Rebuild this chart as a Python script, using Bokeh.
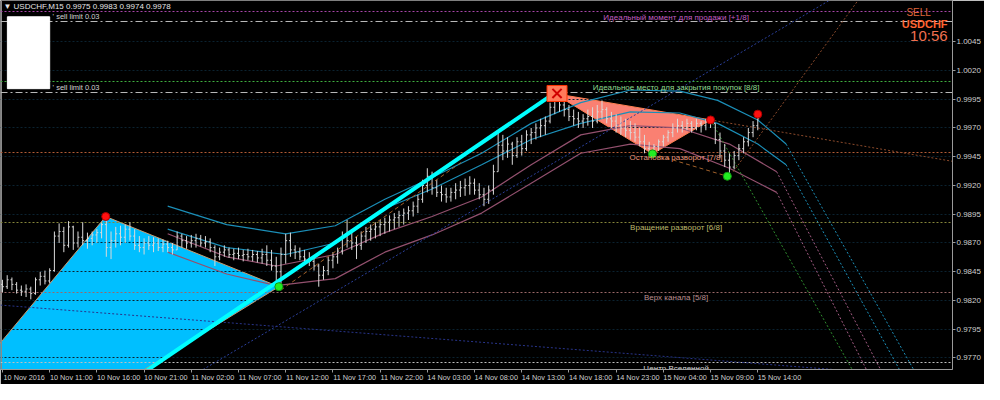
from bokeh.plotting import figure
from bokeh.models import Range1d, Label, FixedTicker, PrintfTickFormatter, LinearAxis
from bokeh.embed import file_html
from bokeh.resources import INLINE
from bokeh.core.properties import value

FONT = "Liberation Sans"
PIP = 0.0001

# ---------------- price bars (30-min bars drawn on the M15 time grid, prices in pips) -------------
highs = [9838, 9842, 9840, 9836, 9833, 9834, 9832, 9840, 9845, 9846, 9848,
         9880, 9887, 9884, 9889, 9885, 9880, 9888, 9879, 9880, 9882,
         9888, 9893, 9880, 9884, 9885, 9886, 9888, 9882, 9876, 9874,
         9876, 9875, 9874, 9873, 9872, 9870, 9880, 9878, 9876, 9877,
         9878, 9877, 9876, 9874, 9868, 9866, 9868, 9866, 9865, 9866,
         9864, 9865, 9864, 9863, 9865, 9868, 9864, 9858, 9866, 9878,
         9879, 9868, 9866, 9864, 9862, 9858, 9852, 9850, 9858, 9862,
         9866, 9880, 9890, 9882, 9876, 9880, 9884, 9886, 9888, 9890,
         9892, 9894, 9896, 9898, 9900, 9902, 9906, 9912, 9925, 9935,
         9932, 9925, 9920, 9918, 9918, 9922, 9924, 9926, 9928, 9926,
         9922, 9918, 9920, 9938, 9966, 9964, 9962, 9958, 9962, 9964,
         9968, 9970, 9974, 9978, 9980, 9992, 10002, 10000, 9998, 9990,
         9986, 9984, 9982, 9986, 9988, 9990, 9994, 9988, 9984, 9982,
         9980, 9978, 9976, 9974, 9970, 9964, 9958, 9956, 9960, 9964,
         9968, 9974, 9978, 9976, 9978, 9976, 9978, 9976, 9978, 9980,
         9974, 9966, 9956, 9948, 9950, 9956, 9962, 9970, 9976, 9981]
lows = [9827, 9830, 9829, 9826, 9824, 9823, 9821, 9825, 9833, 9834, 9835,
        9845, 9870, 9862, 9866, 9864, 9866, 9868, 9865, 9868, 9870,
        9874, 9858, 9856, 9866, 9868, 9870, 9872, 9864, 9862, 9860,
        9864, 9862, 9863, 9862, 9862, 9860, 9864, 9866, 9865, 9866,
        9866, 9867, 9866, 9862, 9850, 9855, 9858, 9857, 9855, 9856,
        9854, 9855, 9854, 9853, 9852, 9850, 9846, 9836, 9831, 9852,
        9858, 9856, 9855, 9852, 9850, 9846, 9832, 9838, 9842, 9848,
        9852, 9860, 9866, 9864, 9856, 9864, 9870, 9872, 9874, 9876,
        9878, 9880, 9882, 9884, 9886, 9890, 9893, 9896, 9905, 9914,
        9912, 9910, 9906, 9905, 9906, 9908, 9910, 9911, 9912, 9912,
        9908, 9902, 9904, 9912, 9932, 9942, 9944, 9938, 9944, 9946,
        9950, 9956, 9960, 9962, 9964, 9974, 9982, 9984, 9980, 9976,
        9972, 9970, 9970, 9972, 9970, 9974, 9978, 9974, 9970, 9966,
        9964, 9962, 9960, 9958, 9954, 9948, 9946, 9947, 9950, 9954,
        9958, 9962, 9966, 9966, 9968, 9966, 9968, 9966, 9968, 9970,
        9956, 9944, 9936, 9929, 9934, 9942, 9948, 9954, 9962, 9968]
closes = [9832, 9838, 9834, 9829, 9828, 9830, 9826, 9838, 9841, 9837, 9846,
          9876, 9880, 9868, 9884, 9870, 9875, 9872, 9874, 9877, 9879,
          9886, 9866, 9872, 9878, 9875, 9882, 9876, 9868, 9866, 9870,
          9868, 9870, 9866, 9869, 9866, 9864, 9876, 9872, 9870, 9872,
          9874, 9870, 9871, 9866, 9858, 9862, 9864, 9860, 9861, 9859,
          9860, 9858, 9860, 9857, 9860, 9855, 9850, 9845, 9860, 9872,
          9864, 9862, 9858, 9856, 9854, 9850, 9842, 9846, 9855, 9858,
          9863, 9876, 9872, 9870, 9868, 9876, 9880, 9882, 9884, 9886,
          9888, 9890, 9892, 9894, 9896, 9898, 9902, 9908, 9920, 9928,
          9918, 9914, 9912, 9910, 9914, 9916, 9918, 9920, 9922, 9916,
          9912, 9908, 9916, 9932, 9955, 9950, 9956, 9946, 9958, 9952,
          9964, 9966, 9970, 9972, 9976, 9988, 9994, 9990, 9986, 9980,
          9978, 9976, 9978, 9980, 9976, 9984, 9986, 9978, 9976, 9972,
          9970, 9968, 9966, 9962, 9958, 9952, 9950, 9954, 9958, 9962,
          9966, 9970, 9972, 9970, 9974, 9970, 9974, 9972, 9976, 9974,
          9960, 9950, 9942, 9936, 9946, 9952, 9958, 9966, 9972, 9978]
first_open = 9834
BAR_STEP = 2  # each bar covers two M15 slots

# ---------------- axes ----------------
time_ticks = [0, 20, 40, 60, 80, 100, 120, 140, 160, 180, 200, 220, 240, 260, 280, 300, 320]
time_labels = ["10 Nov 2016", "10 Nov 11:00", "10 Nov 16:00", "10 Nov 21:00", "11 Nov 02:00",
               "11 Nov 07:00", "11 Nov 12:00", "11 Nov 17:00", "11 Nov 22:00", "14 Nov 03:00",
               "14 Nov 08:00", "14 Nov 13:00", "14 Nov 18:00", "14 Nov 23:00", "15 Nov 04:00",
               "15 Nov 09:00", "15 Nov 14:00"]
price_ticks = [0.9770, 0.9795, 0.9820, 0.9845, 0.9870, 0.9895, 0.9920, 0.9945,
               0.9970, 0.9995, 1.0020, 1.0045]

# ---------------- Murrey levels ----------------
levels = [1.0071, 1.0010, 0.9949, 0.9888, 0.9827, 0.9766]
level_names = ["Идеальный момент для продажи [+1/8]",
               "Идеальное место для закрытия покупок [8/8]",
               "Остановка разворот [7/8]",
               "Вращение разворот [6/8]",
               "Верх канала [5/8]",
               "Центр Вселенной"]
level_line_colors = ["#A844A8", "#3FAF3F", "#B25C36", "#85853A", "#9A6868", "#BEBEBE"]
level_text_colors = ["#C25FC2", "#8FD88F", "#E9967A", "#BDB76B", "#BC8F8F", "#D8D8D8"]
level_tag_colors = ["#DD77DD", "#90EE90", "#F4886A", "#BDB76B", "#BC8F8F", "#FFFFFF"]
level_text_k = 285.4
current_price = 0.9978
sell_limit_prices = [1.0063, 1.0001]
sell_limit_text = "sell limit 0.03"

# ---------------- ZUP pattern points (k = M15 slot, pips) ----------------
zup1_k = [-84.6, 43.75, 117.1]
zup1_p = [9577, 9893, 9832]
zup2_k = [233.75, 275.4, 300.0]
zup2_p = [10000, 9947.5, 9977]
tops_k = [43.75, 300.0, 320.0]
tops_p = [9893, 9977, 9982]
bottoms_k = [117.1, 275.4, 307.1]
bottoms_p = [9832, 9947.5, 9928]
trend_k = [57.5, 233.75]
trend_p = [9754, 10000]
dash1_k = [117.9, 195.0]
dash1_p = [9829, 9941]
dash2_k = [275.4, 307.1]
dash2_p = [9947.5, 9928]

# ---------------- regression channel curves ----------------
ch_k = [70, 95, 120, 141, 162, 182, 203, 224, 245, 266, 287, 303, 320, 332]
t1_p = [9902, 9886, 9878, 9885, 9908, 9927, 9948, 9974, 9992, 10003, 10002, 9994, 9977, 9956]
t2_p = [9882, 9866, 9860, 9870, 9900, 9917, 9938, 9960, 9974, 9984, 9983, 9974, 9956, 9938]
pk = [70, 95, 116, 141, 162, 182, 203, 224, 245, 266, 287, 308, 328]
p1_p = [9878, 9858, 9850, 9860, 9879, 9893, 9910, 9938, 9964, 9972, 9970, 9956, 9932]
p2_p = [9862, 9843, 9833, 9839, 9862, 9877, 9896, 9922, 9948, 9956, 9952, 9935, 9914]

# projections (dotted straight lines): k0, p0, k1, p1, colour
projections = [
    (332, 9956, 386, 9760, "#1B8EB7"),
    (332, 9938, 380, 9760, "#1B8EB7"),
    (328, 9932, 372, 9760, "#A05A80"),
    (328, 9914, 366, 9760, "#A05A80"),
    (300, 9977, 360, 9760, "#2E8B2E"),
    (85, 9760, 350.4, 10081, "#2A3F9A"),
    (309.6, 9932, 362.5, 10081, "#8B4A2B"),
    (300, 9977, 402.5, 9941, "#8B4A2B"),
    (-0.83, 9816, 402.5, 9752, "#28348A"),
]

def kx(px):
    return (px - 2) / 2.4

def py(px):
    return (9770 + (373 - px) / 1.2) * PIP

def pr(lst):
    return [v * PIP for v in lst]

p = figure(width=984, height=384, output_backend="svg", toolbar_location=None,
           x_range=Range1d(kx(0), kx(968)), y_range=Range1d(py(385), py(0)),
           background_fill_color="black", border_fill_color="black",
           min_border_left=0, min_border_top=0, min_border_right=32, min_border_bottom=14,
           y_axis_location="right", outline_line_color=None)
p.xgrid.visible = False
p.ygrid.visible = False

# triangles
p.patch(zup1_k, pr(zup1_p), fill_color="#00BFFF", line_color="#C89A70", line_width=1)
p.patch(zup2_k, pr(zup2_p), fill_color="#FA8072", line_color="#FF7F50", line_width=1)

# dark grid over fills
p.hspan(y=price_ticks, line_color="#0B2230", line_dash="2 2", line_width=1)

# left border
p.vspan(x=[kx(1)], line_color="#8A8A8A", line_width=1)

# levels
p.hspan(y=levels, line_color=level_line_colors, line_dash="2 2", line_width=1)
p.hspan(y=sell_limit_prices, line_color="#B8B8B8", line_dash="7 3 2 3", line_width=1)

# channel curves
p.line(ch_k, pr(t1_p), line_color="#1B8EB7", line_width=1.2)
p.line(ch_k, pr(t2_p), line_color="#1B8EB7", line_width=1.2)
p.line(pk, pr(p1_p), line_color="#93506E", line_width=1.2)
p.line(pk, pr(p2_p), line_color="#93506E", line_width=1.2)

for k0, p0, k1, p1, col in projections:
    p.line([k0, k1], [p0 * PIP, p1 * PIP], line_color=col, line_dash="2 2", line_width=1)

# bars
bx = [i * BAR_STEP for i in range(len(closes))]
opens = [first_open] + closes[:-1]
p.segment(x0=bx, y0=pr(lows), x1=bx, y1=pr(highs), line_color="#DADADA", line_width=1)
p.segment(x0=[x - 0.6 for x in bx], y0=pr(opens), x1=bx, y1=pr(opens), line_color="#DADADA", line_width=1)
p.segment(x0=bx, y0=pr(closes), x1=[x + 0.6 for x in bx], y1=pr(closes), line_color="#DADADA", line_width=1)

# trend line and dashed legs
p.line(trend_k, pr(trend_p), line_color="#00FFFF", line_width=4)
p.line(dash1_k, pr(dash1_p), line_color="#A0602A", line_dash="4 3", line_width=1)
p.line(dash2_k, pr(dash2_p), line_color="#A0602A", line_dash="4 3", line_width=1)

# pattern marker
p.rect(x=[zup2_k[0] + 1.2], y=[zup2_p[0] * PIP], width=20, height=16, width_units="screen",
       height_units="screen", fill_color="#FF7A5A", line_color="#FF3300")
p.scatter(x=[zup2_k[0] + 1.2], y=[zup2_p[0] * PIP], marker="x", size=13, line_color="#D00000", line_width=2)

# swing dots
p.scatter(tops_k, pr(tops_p), size=8, fill_color="#FF1010", line_color="#B00000")
p.scatter(bottoms_k, pr(bottoms_p), size=8, fill_color="#22EE22", line_color="#119911")

# level texts
p.text(x=[level_text_k] * len(levels), y=levels, text=level_names, text_color=level_text_colors,
       text_font=value(FONT), text_font_size="8px", text_align="center", text_baseline="top",
       y_offset=1)

# trade panel
p.quad(left=[kx(7)], right=[kx(50)], top=[py(17)], bottom=[py(92)], fill_color="white", line_color="white")
for sp in sell_limit_prices:
    p.add_layout(Label(x=kx(53), y=sp, text="' " + sell_limit_text, text_color="#D0D0D0",
                       text_font=FONT, text_font_size="7.5px", text_baseline="bottom"))

# header texts
p.add_layout(Label(x=kx(3), y=py(6), text="▼ USDCHF,M15  0.9975 0.9983 0.9974 0.9978",
                   text_color="#E6E6E6", text_font=FONT, text_font_size="8px", text_baseline="middle"))
p.add_layout(Label(x=kx(946), y=py(12), text="SELL", text_color="#E0663C", text_font=FONT,
                   text_font_size="10px", text_align="right", text_baseline="middle"))
p.add_layout(Label(x=kx(963), y=py(25), text="USDCHF", text_color="#FF6432", text_font=FONT,
                   text_font_size="11px", text_font_style="bold", text_align="right", text_baseline="middle"))
p.add_layout(Label(x=kx(963), y=py(37), text="10:56", text_color="#F07050", text_font=FONT,
                   text_font_size="15px", text_align="right", text_baseline="middle"))

# axes: price scale
p.yaxis.ticker = FixedTicker(ticks=price_ticks)
p.yaxis.formatter = PrintfTickFormatter(format="%.4f")
# time scale: tick marks on the first axis, left-aligned texts on a second one
p.xaxis.ticker = FixedTicker(ticks=time_ticks)
p.xaxis.major_label_overrides = {t: "" for t in time_ticks}
p.xaxis.major_label_text_font_size = "1px"
for ax in (p.xaxis[0], p.yaxis[0]):
    ax.axis_line_color = "#9A9A9A"
    ax.major_tick_line_color = "#9A9A9A"
    ax.major_tick_in = 0
    ax.major_tick_out = 3
    ax.minor_tick_line_color = None
    ax.major_label_text_color = "#CFCFCF"
    ax.major_label_text_font = FONT
    ax.major_label_standoff = 1
p.yaxis.major_label_text_font_size = "8px"
p.xaxis.major_label_standoff = 0

LABEL_SHIFT = 9.2  # half a label width, in M15 slots, so texts start at their tick
label_pos = [t + LABEL_SHIFT for t in time_ticks]
xlab = LinearAxis(ticker=FixedTicker(ticks=label_pos),
                  major_label_overrides={lp: s for lp, s in zip(label_pos, time_labels)},
                  axis_line_color=None, major_tick_line_color=None, minor_tick_line_color=None,
                  major_tick_out=0, major_tick_in=0, major_label_standoff=0,
                  major_label_text_color="#CFCFCF", major_label_text_font=FONT,
                  major_label_text_font_size="7.3px")
p.add_layout(xlab, "below")

# price tags on the scale
tag_prices = levels + [current_price]
tag_colors = level_tag_colors + ["#FFFFFF"]
for tp, tc in zip(tag_prices, tag_colors):
    p.add_layout(Label(x=953, y=tp, x_units="screen", text=f"{tp:.4f}", text_color="black",
                       text_font=FONT, text_font_size="8px", text_baseline="middle",
                       background_fill_color=tc, border_line_color="#707070"))

open("out.html", "w", encoding="utf-8").write(file_html(p, INLINE))
